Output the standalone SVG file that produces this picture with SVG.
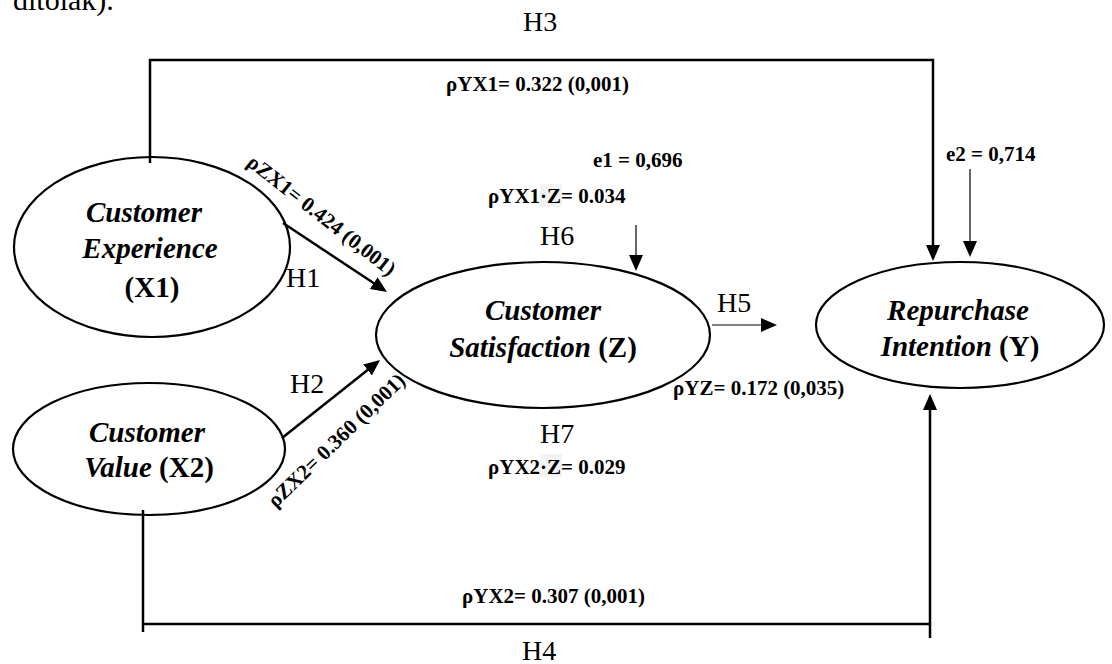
<svg xmlns="http://www.w3.org/2000/svg" width="1112" height="664" viewBox="0 0 1112 664">
<style>
text{font-family:"Liberation Serif","Times New Roman",serif;fill:#000}
.node{fill:none;stroke:#000;stroke-width:2.2}
.lbl{font-size:21px;font-weight:bold}
.h{font-size:28px}
.nt{font-size:29px;font-weight:bold;text-anchor:middle}
.it{font-style:italic}
.conn{fill:none;stroke:#000;stroke-width:2.5}
.thin{fill:none;stroke:#000;stroke-width:1.2}
</style>
<defs>
<marker id="ah" viewBox="0 0 16 14" refX="13" refY="7" markerWidth="16" markerHeight="14" markerUnits="userSpaceOnUse" orient="auto">
<path d="M0,0 L16,7 L0,14 z" fill="#000"/>
</marker>
</defs>
<rect width="1112" height="664" fill="#fff"/>
<text x="13" y="10" style="font-size:30px">ditolak).</text>

<g id="connectors">
<path class="conn" d="M150,163 V60 H933 V258" marker-end="url(#ah)"/>
<line class="conn" x1="143" y1="510" x2="143" y2="632"/>
<line class="conn" x1="143" y1="624" x2="930" y2="624"/>
<line class="conn" x1="930" y1="638" x2="930" y2="397" marker-end="url(#ah)"/>
<line class="conn" x1="283" y1="223" x2="384.5" y2="290.3" marker-end="url(#ah)"/>
<line class="conn" x1="282" y1="438" x2="377.7" y2="361.9" marker-end="url(#ah)"/>
<line class="thin" x1="712" y1="325" x2="774" y2="325" marker-end="url(#ah)"/>
<line class="thin" x1="636" y1="225" x2="636" y2="268" marker-end="url(#ah)"/>
<line class="thin" x1="970" y1="169" x2="970" y2="254" marker-end="url(#ah)"/>
</g>

<g id="x1">
<ellipse class="node" cx="152" cy="247" rx="138" ry="90"/>
<text class="nt it" x="144" y="222">Customer</text>
<text class="nt it" x="150" y="258">Experience</text>
<text class="nt" x="152" y="297">(X1)</text>
</g>
<g id="x2">
<ellipse class="node" cx="149" cy="449" rx="136" ry="66"/>
<text class="nt it" x="147" y="442">Customer</text>
<text class="nt" x="149" y="477"><tspan class="it">Value</tspan> (X2)</text>
</g>
<g id="z">
<ellipse class="node" cx="543" cy="335" rx="167" ry="73"/>
<text class="nt it" x="543" y="320">Customer</text>
<text class="nt" x="543" y="357"><tspan class="it">Satisfaction</tspan> (Z)</text>
</g>
<g id="y">
<ellipse class="node" cx="960" cy="325" rx="144" ry="63"/>
<text class="nt it" x="958" y="320">Repurchase</text>
<text class="nt" x="960" y="356"><tspan class="it">Intention</tspan> (Y)</text>
</g>

<g id="labels">
<text class="h" x="523" y="31">H3</text>
<text class="lbl" x="446" y="91">ρYX1= 0.322 (0,001)</text>
<text class="lbl" x="593" y="167">e1 = 0,696</text>
<rect x="540" y="184" width="22" height="23" fill="#f3f3f3"/>
<text class="lbl" x="488" y="203">ρYX1·Z= 0.034</text>
<text class="h" x="540" y="245">H6</text>
<text class="lbl" x="946" y="161">e2 = 0,714</text>
<text class="lbl" text-anchor="middle" dy="0.35em" transform="translate(322,215) rotate(38)">ρZX1= 0.424 (0,001)</text>
<text class="h" x="286" y="287">H1</text>
<text class="h" x="717" y="312">H5</text>
<text class="h" x="290" y="393">H2</text>
<text class="lbl" text-anchor="middle" dy="0.35em" transform="translate(336,440) rotate(-44)">ρZX2= 0.360 (0,001)</text>
<text class="lbl" x="673" y="395">ρYZ= 0.172 (0,035)</text>
<text class="h" x="540" y="443">H7</text>
<rect x="540" y="454" width="22" height="23" fill="#f3f3f3"/>
<text class="lbl" x="488" y="474">ρYX2·Z= 0.029</text>
<text class="lbl" x="462" y="603">ρYX2= 0.307 (0,001)</text>
<text class="h" x="522" y="660">H4</text>
</g>
</svg>
